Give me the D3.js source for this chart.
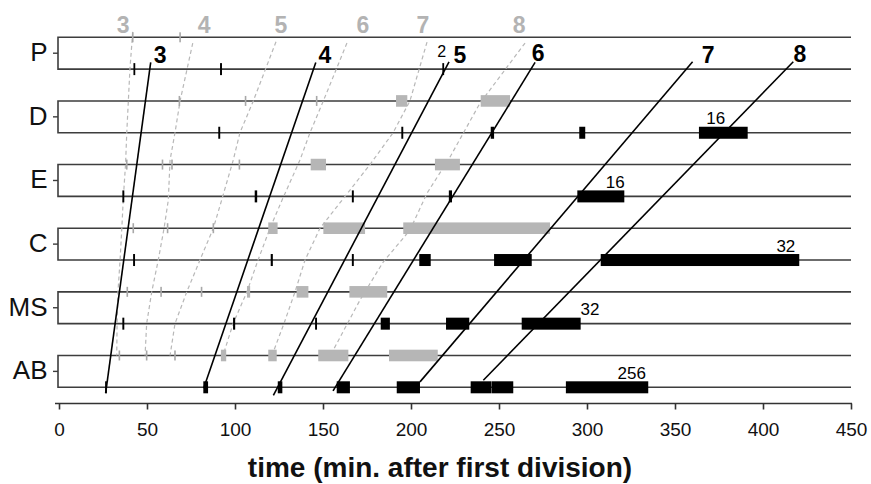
<!DOCTYPE html>
<html>
<head>
<meta charset="utf-8">
<script src="https://cdn.jsdelivr.net/npm/d3@7"></script>
<style>
  html, body { margin: 0; padding: 0; background: #fff; }
  svg { display: block; font-family: "Liberation Sans", Arial, sans-serif; }
</style>
</head>
<body>
<svg id="chart" width="871" height="484"></svg>
<script>
// ---------------- DATA ----------------
const rowNames = ["P", "D", "E", "C", "MS", "AB"];   // each row: top lane (gray) = 2i, bottom lane (black) = 2i+1
const xTicks = [0, 50, 100, 150, 200, 250, 300, 350, 400, 450];
const xTitle = "time (min. after first division)";

// black division marks on bottom lanes: [lane, start, end] (minutes)
const blackMarks = [
  [1, 42.3, 43.3], [1, 91.5, 92.6], [1, 217.8, 218.5],
  [3, 90.5, 91.6], [3, 194.5, 195.6], [3, 245.3, 247.2], [3, 295.6, 299.0], [3, 363.6, 391.3],
  [5, 36.0, 37.1], [5, 111.2, 112.6], [5, 166.4, 167.5], [5, 221.5, 223.3], [5, 294.5, 321.2],
  [7, 42.1, 43.2], [7, 120.3, 121.5], [7, 166.4, 167.5], [7, 204.7, 211.2], [7, 247.2, 268.6], [7, 307.8, 420.6],
  [9, 36.0, 37.1], [9, 98.9, 100.1], [9, 145.5, 146.6], [9, 182.8, 188.0], [9, 219.9, 233.1], [9, 262.9, 296.4],
  [11, 26.2, 27.0], [11, 82.0, 84.7], [11, 124.3, 126.9], [11, 157.8, 165.3], [11, 191.9, 205.1], [11, 233.9, 245.8], [11, 246.0, 258.1], [11, 288.0, 334.8]
];
// gray division ticks on top lanes: [lane, time]
const grayTicks = [
  [0, 41.9], [0, 68.8],
  [2, 68.4], [2, 106.0], [2, 146.4],
  [4, 38.5], [4, 58.8], [4, 64.2], [4, 102.5],
  [6, 42.2], [6, 61.7], [6, 87.7],
  [8, 38.8], [8, 58.0], [8, 81.0],
  [10, 34.3], [10, 49.8], [10, 65.9]
];
// gray division boxes on top lanes: [lane, start, end]
const grayBoxes = [
  [2, 191.5, 197.9], [2, 239.6, 256.3],
  [4, 143.0, 151.7], [4, 213.6, 227.8],
  [6, 118.9, 124.2], [6, 150.2, 173.9], [6, 195.6, 279.0],
  [8, 106.8, 108.6], [8, 135.0, 141.7], [8, 165.0, 186.5],
  [10, 92.0, 95.0], [10, 118.9, 123.7], [10, 147.3, 164.4], [10, 187.5, 215.2]
];
// generation labels
const genNames = ["3", "4", "5", "6", "7", "8"];
// gray dashed generation lines: points [lane, time]
const grayGenLines = [
  [[-0.17, 41.9], [1, 40.3], [2, 39.4], [3, 38.5], [4, 37.8], [5, 36.6], [6, 35.7], [7, 34.7], [8, 33.5], [9, 33.0], [10, 32.8]],
  [[0.18, 76.0], [2, 68.8], [3, 65.9], [3.86, 63.1], [5.12, 62.1], [6, 59.7], [7, 56.4], [8, 52.7], [9, 49.8], [10, 48.9]],
  [[0.14, 123.3], [2, 110.4], [3, 102.8], [3.86, 99.0], [5.12, 92.4], [6, 87.7], [7, 80.1], [8, 72.6], [9, 65.9], [10, 63.1]],
  [[0.18, 163.6], [2, 150.2], [3, 142.6], [3.86, 136.9], [5.12, 126.7], [6, 119.9], [7, 113.1], [8, 106.8], [9, 98.9], [10, 93.2]],
  [[0.15, 209.1], [2, 199.4], [3, 189.8], [4, 176.7], [5, 162.5], [6, 148.3], [7, 139.8], [8, 134.1], [9, 127.8], [10, 121.0]],
  [[0.18, 264.8], [2.07, 239.2], [3.76, 222.2], [4.9, 209.1], [6.06, 199.4], [7.07, 184.1], [8.26, 171.0], [10.02, 154.0]]
];
const grayGenLabelTimes = [36.4, 82.4, 126.1, 172.7, 206.8, 261.4];
// black solid generation lines: [[lane, time] top, [lane, time] bottom]
const blackGenLines = [
  [[0.79, 52.1], [11.18, 26.5]],
  [[0.79, 145.9], [11.03, 82.2]],
  [[0.77, 221.6], [11.25, 121.8]],
  [[0.79, 270.5], [11.11, 155.7]],
  [[0.77, 360.0], [10.83, 205.1]],
  [[0.77, 417.2], [10.78, 241.1]]
];
const blackGenLabelTimes = [57.4, 151.1, 227.8, 272.2, 368.8, 421.0];
// cell-count annotations: [lane, time, text]
const countLabels = [
  [3, 373.1, "16"], [5, 316.0, "16"], [7, 413.0, "32"], [9, 301.7, "32"], [11, 325.4, "256"], [1, 217.5, "2"]
];

// ---------------- CHART ----------------
const svg = d3.select("#chart");
const x = d3.scaleLinear().domain([0, 450]).range([59, 851]);
const y = d3.scaleLinear().domain([0, 11]).range([37.3, 387.3]);
const xRight = 851, xLeft = 58;

// lane lines and row frames
const rows = svg.append("g");
rowNames.forEach((name, i) => {
  const yt = y(2 * i), yb = y(2 * i + 1), ym = (yt + yb) / 2;
  rows.append("path")
    .attr("d", `M${xRight},${yt}H${xLeft}V${yb}H${xRight}`)
    .attr("fill", "none").attr("stroke", "#3d3d3d").attr("stroke-width", 1.6);
  rows.append("line").attr("x1", 53).attr("x2", xLeft).attr("y1", ym).attr("y2", ym)
    .attr("stroke", "#3d3d3d").attr("stroke-width", 1.4);
  rows.append("text").attr("x", 47.5).attr("y", ym - 1)
    .attr("text-anchor", "end").attr("dominant-baseline", "central")
    .attr("font-size", 26).attr("fill", "#111").text(name);
});

// gray dashed generation lines
const lineGen = d3.line().x(d => x(d[1])).y(d => y(d[0]));
svg.append("g").selectAll("path").data(grayGenLines).join("path")
  .attr("d", lineGen).attr("fill", "none")
  .attr("stroke", "#b8b8b8").attr("stroke-width", 1.2).attr("stroke-dasharray", "4,3");

// gray marks
svg.append("g").selectAll("rect").data(grayTicks).join("rect")
  .attr("x", d => x(d[1]) - 0.8).attr("width", 1.6)
  .attr("y", d => y(d[0]) - 5).attr("height", 10)
  .attr("fill", "#a8a8a8");
svg.append("g").selectAll("rect").data(grayBoxes).join("rect")
  .attr("x", d => x(d[1])).attr("width", d => x(d[2]) - x(d[1]))
  .attr("y", d => y(d[0]) - 5.8).attr("height", 11.6)
  .attr("fill", "#b6b6b6");

// black marks
svg.append("g").selectAll("rect").data(blackMarks).join("rect")
  .attr("x", d => x(d[1])).attr("width", d => Math.max(1.8, x(d[2]) - x(d[1])))
  .attr("y", d => y(d[0]) - 6).attr("height", 12)
  .attr("fill", "#000");

// black generation lines
svg.append("g").selectAll("path").data(blackGenLines).join("path")
  .attr("d", lineGen).attr("fill", "none")
  .attr("stroke", "#000").attr("stroke-width", 1.6);

// generation labels
svg.append("g").selectAll("text").data(genNames).join("text")
  .attr("x", (d, i) => x(grayGenLabelTimes[i])).attr("y", 33)
  .attr("text-anchor", "middle").attr("font-size", 23).attr("font-weight", "bold")
  .attr("fill", "#b3b3b3").text(d => d);
svg.append("g").selectAll("text").data(genNames).join("text")
  .attr("x", (d, i) => x(blackGenLabelTimes[i])).attr("y", (d, i) => (i === 3 ? 60.5 : i === 5 ? 62 : 63.3))
  .attr("text-anchor", "middle").attr("font-size", 23).attr("font-weight", "bold")
  .attr("fill", "#000").text(d => d);

// count labels
svg.append("g").selectAll("text").data(countLabels).join("text")
  .attr("x", d => x(d[1])).attr("y", d => y(d[0]) - (d[2] === "2" ? 12.5 : 8.5))
  .attr("text-anchor", "middle").attr("font-size", d => d[2] === "2" ? 16 : 17)
  .attr("fill", "#000").text(d => d[2]);

// x axis
const axisY = 403.5;
svg.append("line").attr("x1", 55).attr("x2", 852).attr("y1", axisY).attr("y2", axisY)
  .attr("stroke", "#333").attr("stroke-width", 1.6);
const ax = svg.append("g").attr("transform", `translate(0,${axisY})`)
  .call(d3.axisBottom(x).tickValues(xTicks).tickSize(6).tickSizeOuter(0).tickPadding(13));
ax.select(".domain").remove();
ax.selectAll(".tick line").attr("stroke", "#333").attr("stroke-width", 1.6);
ax.selectAll(".tick text").attr("font-size", 19).attr("fill", "#111")
  .attr("font-family", "'Liberation Sans', Arial, sans-serif");

svg.append("text").attr("x", 440).attr("y", 477).attr("text-anchor", "middle")
  .attr("font-size", 28).attr("font-weight", "bold").attr("fill", "#111").text(xTitle);
</script>
</body>
</html>
